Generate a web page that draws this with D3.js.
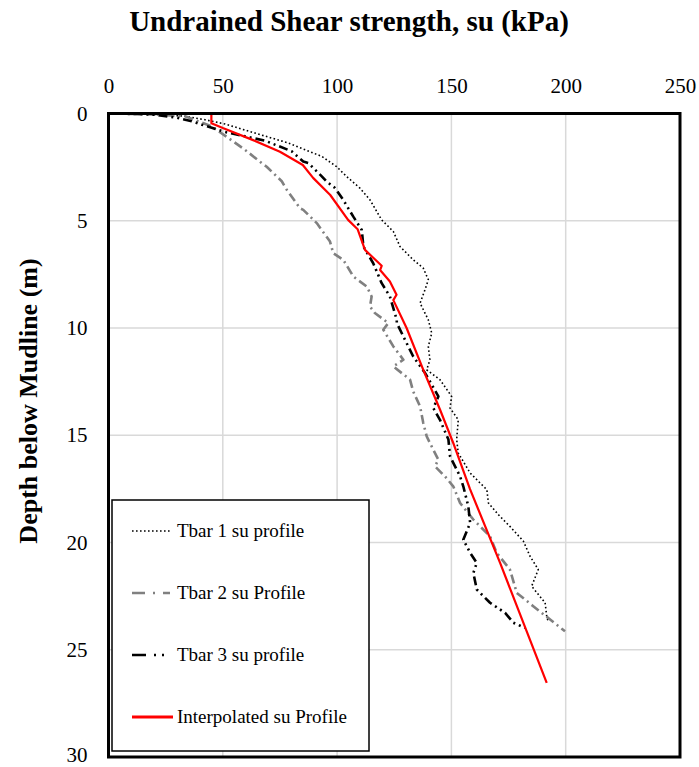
<!DOCTYPE html>
<html>
<head>
<meta charset="utf-8">
<script src="https://cdn.jsdelivr.net/npm/d3@7"></script>
<style>
  html, body { margin: 0; padding: 0; background: #fff; }
  svg { display: block; }
  text { font-family: "Liberation Serif", "Times New Roman", serif; fill: #000; }
</style>
</head>
<body>
<svg id="chart" width="699" height="767"></svg>
<script>
// Undrained shear strength (kPa) against depth below mudline (m), [su, depth]
const tbar1 = [
  [0,0],[20,0.04],[33,0.12],[42.2,0.29],[51,0.49],[64,0.91],[78.5,1.37],[93.3,2.0],[99.8,2.48],
  [104.2,2.94],[110,3.48],[114.4,4.03],[119.5,4.96],[124.6,5.5],[127.5,6.2],[133.3,6.82],
  [137.7,7.21],[139.9,7.75],[138.5,8.2],[136.3,8.84],[139.9,9.62],[141.4,10.24],[139.9,10.86],
  [140.6,11.48],[139.2,11.95],[145,12.41],[150.1,13.19],[149.4,13.73],[153,14.28],[152.3,15.2],
  [153,15.83],[158.2,16.76],[165.5,17.54],[166.2,18.16],[170.5,18.7],[175.6,19.25],[181.5,19.94],
  [184.4,20.64],[188,21.26],[185.1,22.04],[191,22.81],[191.7,23.44],[192.3,23.67]
];
const tbar2 = [
  [0,0],[15,0.03],[25,0.08],[33.5,0.13],[45.1,0.6],[52.4,1.14],[59.7,1.69],[67,2.31],[69.2,2.48],
  [75.8,3.16],[78,3.56],[83.8,4.42],[85.2,4.49],[91.1,5.11],[96.9,5.97],[98.3,6.51],[102.7,6.82],
  [107.1,7.6],[113,8.07],[115.1,8.53],[114.4,9.0],[116.5,9.3],[122.4,9.77],[120.2,10.08],
  [124.6,10.86],[129,11.48],[124.6,11.79],[131.9,12.41],[133.3,12.96],[136.3,13.66],[137.7,14.43],
  [139.2,15.05],[140.6,15.36],[144.3,16.14],[142.8,16.45],[147.2,16.92],[150.8,17.38],
  [153.8,18.16],[159.6,18.93],[166.9,19.71],[169.8,20.48],[175.6,21.26],[178.6,22.35],
  [185.8,22.97],[193.2,23.59],[199.7,24.14]
];
const tbar3 = [
  [0,0],[12,0.02],[20.3,0.06],[30,0.2],[36.4,0.36],[40.8,0.52],[51,0.86],[68.5,1.27],[80.1,1.76],
  [85.2,2.24],[87.4,2.31],[93.3,2.93],[95.5,3.18],[99.1,3.47],[102.7,4.03],[107.1,4.81],
  [110.8,5.43],[111.5,6.2],[115.8,6.98],[119.5,7.91],[123.1,8.53],[126.1,9.62],[126.1,9.77],
  [129.7,10.55],[133.3,11.33],[138.5,12.1],[144.3,13.19],[142.1,13.73],[145,14.28],[148.7,15.2],
  [149.4,15.98],[153.8,16.92],[155.2,17.38],[157.4,18.31],[158.2,19.09],[155.2,19.87],
  [158.2,20.48],[161.1,20.95],[159.6,21.42],[161.1,22.19],[166.9,22.81],[173.5,23.28],
  [177.1,23.74],[182.2,23.98]
];
const interpolated = [
  [45,0],[45,0.45],[50,0.68],[63,1.23],[75,1.78],[85,2.4],[89.5,3.0],[97,3.8],[104.8,4.96],
  [109,5.4],[112.2,6.36],[119.5,7.1],[118.8,7.3],[123.1,7.83],[126,8.45],[124.6,8.7],
  [130.4,10.0],[137.7,11.95],[145,13.8],[150.8,15.36],[158.1,17.5],[171.3,20.95],[191.7,26.54]
];

const xTicks = [0, 50, 100, 150, 200, 250];
const yTicks = [0, 5, 10, 15, 20, 25, 30];
const seriesNames = ["Tbar 1 su profile", "Tbar 2 su Profile", "Tbar 3 su profile", "Interpolated su Profile"];

const svg = d3.select("#chart");
const plotLeft = 108.5, plotRight = 680, plotTop = 113.5, plotBottom = 757;

const x = d3.scaleLinear().domain([0, 250]).range([plotLeft, plotRight]);
const y = d3.scaleLinear().domain([0, 30]).range([plotTop, plotBottom]);

// grid
const grid = svg.append("g");
grid.selectAll("line.v").data(xTicks.slice(1, -1)).join("line")
  .attr("class", "v")
  .attr("x1", d => x(d)).attr("x2", d => x(d))
  .attr("y1", plotTop).attr("y2", plotBottom)
  .attr("stroke", "#d9d9d9").attr("stroke-width", 1.5);
grid.selectAll("line.h").data(yTicks.slice(1, -1)).join("line")
  .attr("class", "h")
  .attr("x1", plotLeft).attr("x2", plotRight)
  .attr("y1", d => y(d)).attr("y2", d => y(d))
  .attr("stroke", "#d9d9d9").attr("stroke-width", 1.5);

// axes (labels only, no tick marks)
const xAxis = d3.axisTop(x).tickValues(xTicks).tickSize(0).tickPadding(21);
svg.append("g").attr("transform", `translate(0,${plotTop})`).call(xAxis)
  .call(g => g.select(".domain").remove())
  .selectAll("text").attr("font-size", 21).attr("font-family", "Liberation Serif, serif");

const yAxis = d3.axisLeft(y).tickValues(yTicks).tickSize(0).tickPadding(21);
svg.append("g").attr("transform", `translate(${plotLeft},0)`).call(yAxis)
  .call(g => g.select(".domain").remove())
  .selectAll("text").attr("font-size", 21).attr("font-family", "Liberation Serif, serif")
  .attr("dy", d => d === 30 ? "0.22em" : "0.32em");

// series
const line = d3.line().x(d => x(d[0])).y(d => y(d[1]));
const styles = [
  { data: tbar1, color: "#000", width: 1.6, dash: "1.6,2.4" },
  { data: tbar2, color: "#808080", width: 2.6, dash: "9,4,2,4" },
  { data: tbar3, color: "#000", width: 2.6, dash: "9,4,2,4,2,4" },
  { data: interpolated, color: "#ff0000", width: 2.2, dash: null }
];
const plot = svg.append("g");
styles.forEach(s => {
  plot.append("path").datum(s.data)
    .attr("d", line)
    .attr("fill", "none")
    .attr("stroke", s.color)
    .attr("stroke-width", s.width)
    .attr("stroke-dasharray", s.dash)
    .attr("stroke-linejoin", "round");
});

// frame
svg.append("rect").attr("x", plotLeft).attr("y", plotTop)
  .attr("width", plotRight - plotLeft).attr("height", plotBottom - plotTop)
  .attr("fill", "none").attr("stroke", "#000").attr("stroke-width", 3);

// legend
const lg = svg.append("g");
lg.append("rect").attr("x", 112).attr("y", 500).attr("width", 257).attr("height", 251)
  .attr("fill", "#fff").attr("stroke", "#000").attr("stroke-width", 1.5);
const rowY = [531, 593, 655, 717];
const legendDash = ["1.6,2.4", "13,8,2,8,13", "14,8,2,6,2,8", null];
seriesNames.forEach((name, i) => {
  const s = styles[i];
  lg.append("line").attr("x1", 132).attr("x2", i === 3 ? 173 : 170)
    .attr("y1", rowY[i]).attr("y2", rowY[i])
    .attr("stroke", s.color).attr("stroke-width", i === 3 ? 3 : s.width)
    .attr("stroke-dasharray", legendDash[i]);
  lg.append("text").attr("x", 177).attr("y", rowY[i] + 6)
    .attr("font-size", 19).text(name);
});

// titles
svg.append("text").attr("x", 349).attr("y", 31).attr("text-anchor", "middle")
  .attr("font-size", 29).attr("font-weight", "bold")
  .text("Undrained Shear strength, su (kPa)");
svg.append("text").attr("transform", "translate(37,401) rotate(-90)")
  .attr("text-anchor", "middle").attr("font-size", 26).attr("font-weight", "bold")
  .text("Depth below Mudline (m)");
</script>
</body>
</html>
